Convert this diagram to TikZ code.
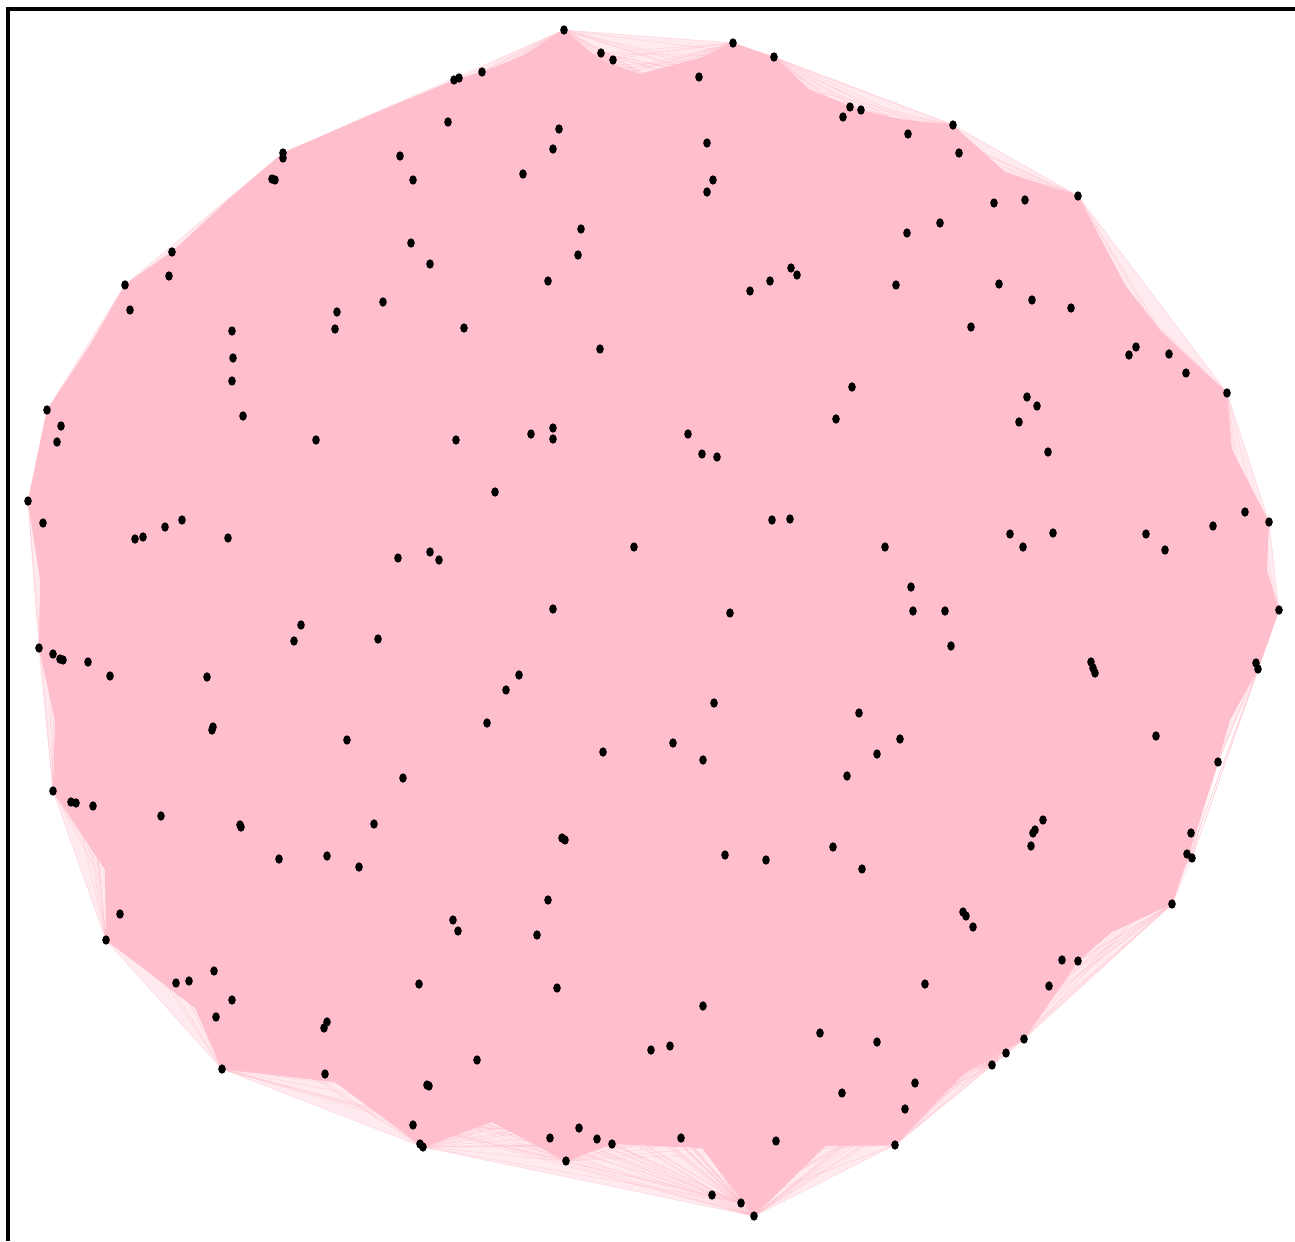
\documentclass[tikz,border=0pt]{standalone}
\usetikzlibrary{shapes.geometric}
\definecolor{edgepink}{RGB}{255,190,203}
\begin{document}
\begin{tikzpicture}[x=0.02cm,y=-0.02cm,
  dot/.style={ellipse,fill=black,draw=none,inner sep=0pt,minimum width=4.3pt,minimum height=5.3pt},
  edgeline/.style={draw=edgepink,line width=0.35pt,opacity=0.5},
  frameline/.style={draw=black,line width=2.4pt}]
\useasboundingbox (0,0) rectangle (1295,1241);
\fill[white] (0,0) rectangle (1295,1241);
% light fringe of the edge bundle (convex hull)
\fill[edgepink,opacity=0.3] (564,30) -- (733,43) -- (774,57) -- (953,125) -- (1078,196) -- (1227,393) -- (1269,522) -- (1279,610) -- (1258,669) -- (1218,762) -- (1172,904) -- (1024,1039) -- (895,1145) -- (754,1216) -- (423,1147) -- (222,1069) -- (106,940) -- (53,791) -- (39,648) -- (28,501) -- (47,410) -- (125,285) -- (283,153) -- (454,80) -- cycle;
% dense core of the edge bundle
\fill[edgepink] (564,30) -- (600,60) -- (640,74) -- (700,58) -- (733,43) -- (774,57) -- (810,90) -- (861,110) -- (905,120) -- (953,125) -- (1005,172) -- (1078,196) -- (1125,285) -- (1160,330) -- (1227,393) -- (1232,450) -- (1269,522) -- (1267,570) -- (1279,610) -- (1258,669) -- (1230,720) -- (1218,762) -- (1197,830) -- (1172,904) -- (1112,932) -- (1078,961) -- (1024,1039) -- (965,1072) -- (895,1145) -- (825,1146) -- (754,1216) -- (702,1148) -- (612,1144) -- (566,1161) -- (492,1122) -- (423,1147) -- (335,1082) -- (222,1069) -- (195,1008) -- (106,940) -- (105,870) -- (53,791) -- (55,720) -- (39,648) -- (40,580) -- (28,501) -- (47,410) -- (90,345) -- (125,285) -- (172,252) -- (230,198) -- (283,153) -- (370,115) -- (454,80) -- (482,72) -- (522,56) -- cycle;
% rim vertices
\foreach \x/\y [count=\k] in {564/30,601/53,733/43,774/57,861/110,953/125,959/153,1078/196,1071/308,1186/373,1227/393,1245/512,1269/522,1279/610,1258/669,1218/762,1192/858,1172/904,1078/961,1049/986,1024/1039,992/1065,905/1109,895/1145,776/1141,754/1216,741/1203,612/1144,566/1161,427/1085,423/1147,413/1125,325/1074,222/1069,216/1017,106/940,120/914,53/791,93/806,39/648,110/676,28/501,43/523,47/410,57/442,125/285,130/310,172/252,283/153,272/179,400/156,454/80,482/72,448/122}
  \coordinate (r\k) at (\x,\y);
% edges among rim vertices
\foreach \i in {1,...,54}{
  \foreach \j in {1,...,54}{
    \ifnum\i<\j \draw[edgeline] (r\i) -- (r\j);\fi
  }
}
% vertices
\foreach \x/\y [count=\k] in {283/153,283/158,272/179,275/180,400/156,413/180,172/252,169/276,125/285,130/310,411/243,430/264,383/302,337/312,335/329,232/331,233/358,232/381,243/416,316/440,47/410,61/426,57/442,28/501,43/523,135/539,143/537,165/527,182/520,228/538,398/558,430/552,
564/30,601/53,613/60,454/80,459/78,482/72,448/122,559/129,553/149,523/174,733/43,774/57,699/77,707/143,713/180,707/192,850/107,843/117,861/110,581/229,578/255,548/281,791/268,797/275,770/281,750/291,464/328,600/349,852/387,836/419,456/440,531/434,553/428,553/439,688/434,702/454,717/457,495/492,772/520,790/519,634/547,439/560,553/609,730/613,
953/125,908/134,959/153,1078/196,994/203,1025/200,940/223,907/233,896/285,999/284,1032/300,1071/308,971/327,1129/355,1136/347,1169/354,1186/373,1227/393,1027/397,1037/406,1019/422,1048/452,1245/512,1269/522,1213/526,1010/534,1053/533,1023/547,1146/534,1165/550,885/547,911/587,913/611,945/611,1279/610,
301/625,294/641,378/639,39/648,53/654,60/659,63/660,88/662,110/676,207/677,213/727,212/730,347/740,403/778,53/791,71/802,76/803,93/806,161/816,240/825,241/827,374/824,279/859,327/856,359/867,120/914,106/940,214/971,176/983,189/981,232/1000,216/1017,327/1022,324/1028,419/984,222/1069,325/1074,427/1085,429/1086,413/1125,420/1144,423/1147,
519/675,506/690,487/723,714/703,859/713,603/752,673/743,703/760,847/776,562/838,565/840,725/855,766/860,833/847,862/869,548/900,453/920,458/931,537/935,557/988,703/1006,820/1033,651/1050,670/1046,477/1060,842/1093,579/1128,550/1138,597/1139,612/1144,681/1138,776/1141,566/1161,712/1195,741/1203,754/1216,
951/646,1091/662,1093/668,1095/673,1256/663,1258/669,900/739,877/754,1156/736,1218/762,1043/820,1035/830,1033/833,1031/846,1191/833,1187/854,1192/858,963/912,966/916,973/927,1172/904,1062/960,1078/961,1049/986,925/984,877/1042,1024/1039,1006/1053,992/1065,915/1083,905/1109,895/1145}
  \node[dot] (n\k) at (\x,\y) {};
% frame
\coordinate (fa) at (8,1241);
\coordinate (fb) at (8,9);
\coordinate (fc) at (1295,9);
\draw[frameline] (fa) -- (fb) -- (fc);
\end{tikzpicture}
\end{document}
